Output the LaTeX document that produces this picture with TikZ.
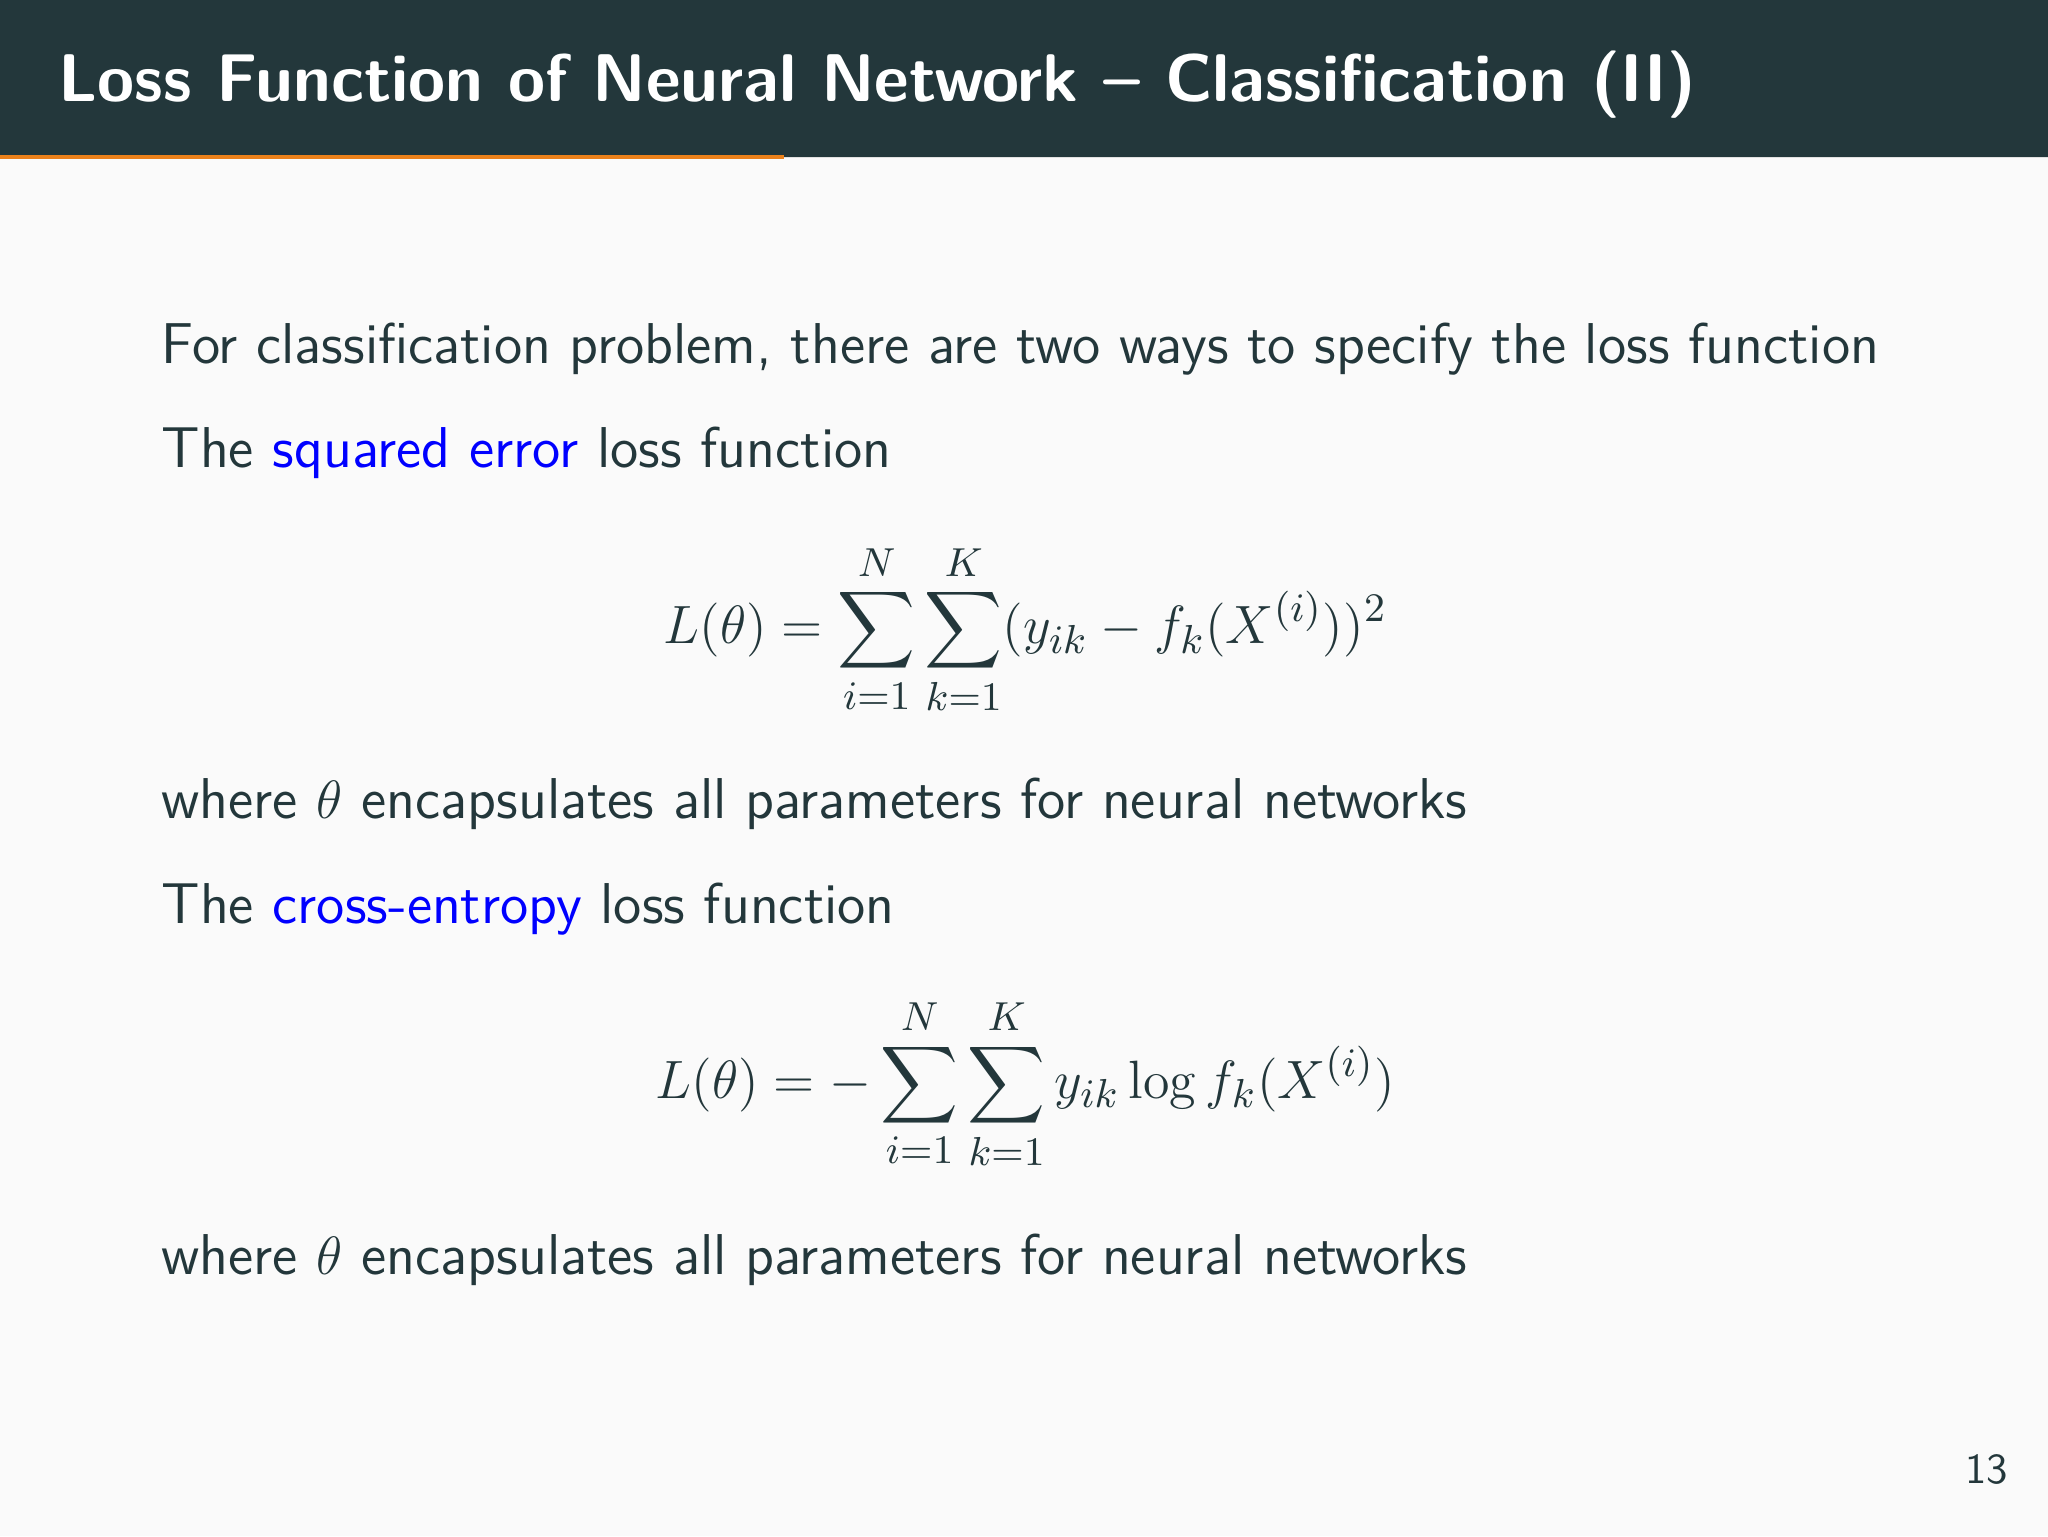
\documentclass[tikz,border=0pt]{standalone}
\usepackage{amsmath}
\renewcommand{\familydefault}{\sfdefault}
\definecolor{mDark}{HTML}{23373B}
\definecolor{mBg}{HTML}{FAFAFA}
\definecolor{mOrange}{HTML}{EB811B}
\tikzset{
  body/.style={anchor=base west, inner sep=0pt, text=mDark, font=\fontsize{12.8}{15}\selectfont},
  formula/.style={anchor=center, inner sep=0pt, text=mDark, font=\fontsize{12.8}{15}\selectfont},
}
\newcommand{\hl}[1]{\textcolor{blue}{#1}}
\begin{document}
\begin{tikzpicture}[x=0.010204cm,y=-0.010204cm]
      \useasboundingbox (0,0) rectangle (1568,1176);
      % Fundo e cabecalho
      \fill[mBg] (0,0) rectangle (1568,1176);
      \fill[mDark] (0,0) rectangle (1568,120);
      \fill[mOrange] (0,119) rectangle (600,122);
      \fill[black!12] (600,120) rectangle (1568,121);

      \node[anchor=base west, inner sep=0pt, text=white, font=\fontsize{15}{18}\selectfont\bfseries]
        (title) at (44,78) {Loss Function of Neural Network -- Classification (II)};

      % Texto
      \node[body] (intro) at (123,278) {For classification problem, there are two ways to specify the loss function};
      \node[body] (sq) at (123,358) {The \hl{squared error} loss function};
      \node[formula] (eqsq) at (785,482)
        {$\displaystyle L(\theta)=\sum_{i=1}^{N}\sum_{k=1}^{K}(y_{ik}-f_k(X^{(i)}))^2$};
      \node[body] (wsq) at (123,627) {where $\theta$ encapsulates all parameters for neural networks};
      \node[body] (ce) at (123,707) {The \hl{cross-entropy} loss function};
      \node[formula] (eqce) at (785,830)
        {$\displaystyle L(\theta)=-\sum_{i=1}^{N}\sum_{k=1}^{K}y_{ik}\log f_k(X^{(i)})$};
      \node[body] (wce) at (123,976) {where $\theta$ encapsulates all parameters for neural networks};

      \node[anchor=base east, inner sep=0pt, text=mDark, font=\fontsize{9.5}{11}\selectfont]
        (page) at (1538,1136) {13};
    \end{tikzpicture}
\end{document}
